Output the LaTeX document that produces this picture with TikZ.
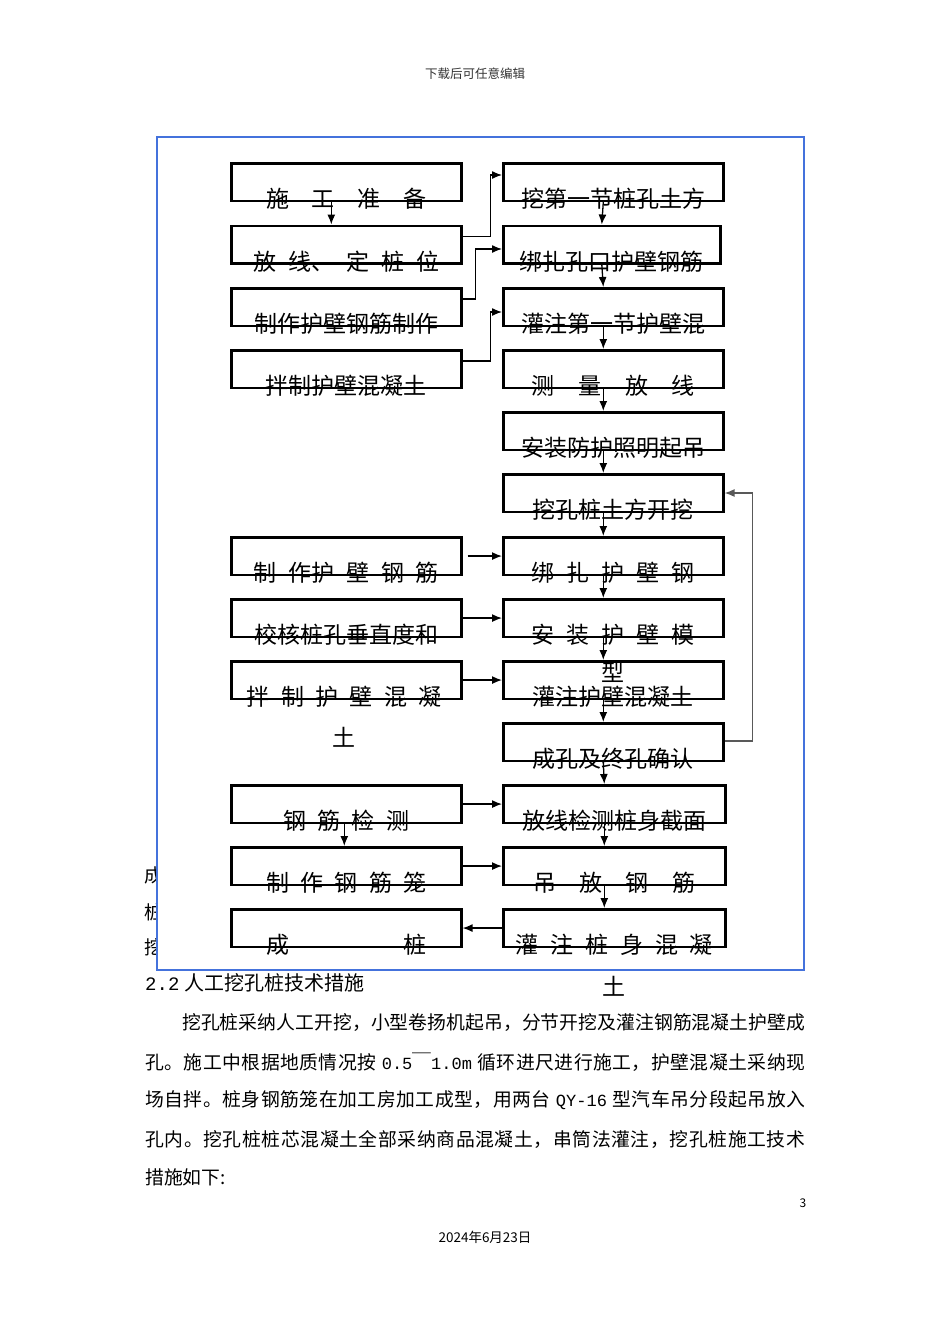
\documentclass[tikz,border=0pt]{standalone}
\usepackage{fontspec}
\setmainfont{Noto Sans CJK SC}
\newfontfamily\latinmono{Liberation Mono}
\usetikzlibrary{arrows.meta,calc}
\definecolor{frameblue}{RGB}{68,114,220}
\newcommand{\lat}[1]{{\latinmono\fontsize{17}{20}\selectfont #1}}
\begin{document}
\begin{tikzpicture}[x=1pt,y=-1pt,
  lb/.style={draw, line width=2.6pt, minimum width=230pt, minimum height=37.5pt, anchor=north west, inner sep=0pt},
  rb/.style={lb, minimum width=220pt},
  txt/.style={font=\fontsize{23}{28}\selectfont, inner sep=0pt},
  para/.style={font={\fontsize{18.8}{22}\selectfont\spaceskip=0pt plus 1fil}, inner sep=0pt, anchor=west},
  arr/.style={line width=1.3pt, -{Latex[length=10pt,width=8pt]}},
  loopline/.style={arr, draw=black!65}
]
\useasboundingbox (0,0) rectangle (950,1344);
\fill[white] (0,0) rectangle (950,1344);

% page header / footer
\node[font=\fontsize{12.5}{14}\selectfont, text=black!80, inner sep=0pt] (hdr) at (475,74) {下载后可任意编辑};
\node[font=\fontsize{12}{14}\selectfont, inner sep=0pt] (pg) at (803,1203) {3};
\node[font=\fontsize{13.5}{15}\selectfont, inner sep=0pt] (date) at (485,1237) {2024年6月23日};

% text hidden behind the figure
\node[para] (bg1) at (144,875) {成};
\node[para] (bg2) at (144,912) {桩};
\node[para] (bg3) at (144,947) {挖};

% blue frame
\draw[frameblue, line width=2.5pt, fill=white] (157,137) rectangle (804,970);

% left boxes
\node[lb] (L1) at (230,162) {};
\node[lb] (L2) at (230,224.5) {};
\node[lb] (L3) at (230,287) {};
\node[lb] (L4) at (230,349) {};
\node[lb] (L7) at (230,536) {};
\node[lb] (L8) at (230,598) {};
\node[lb] (L9) at (230,660) {};
\node[lb] (L11) at (230,784) {};
\node[lb] (L12) at (230,846) {};
\node[lb] (L13) at (230,908) {};

% right boxes
\node[rb] (R1) at (502,162) {};
\node[rb, minimum width=217pt] (R2) at (502,224.5) {};
\node[rb] (R3) at (502,287) {};
\node[rb] (R4) at (502,349) {};
\node[rb] (R5) at (502,411) {};
\node[rb] (R6) at (502,473) {};
\node[rb] (R7) at (502,536) {};
\node[rb] (R8) at (502,598) {};
\node[rb] (R9) at (502,660) {};
\node[rb] (R10) at (502,722) {};
\node[rb, minimum width=222pt] (R11) at (502,784) {};
\node[rb, minimum width=222pt] (R12) at (502,846) {};
\node[rb, minimum width=222pt] (R13) at (502,908) {};

% left texts
\node[txt] (L1t) at ($(L1.south)+(0,-3)$) {\makebox[160pt][s]{施 工 准 备}};
\node[txt] (L2t) at ($(L2.south)+(0,-3)$) {\makebox[186pt][s]{放 线、 定 桩 位}};
\node[txt] (L3t) at ($(L3.south)+(0,-3)$) {制作护壁钢筋制作};
\node[txt] (L4t) at ($(L4.south)+(0,-3)$) {拌制护壁混凝土};
\node[txt] (L7t) at ($(L7.south)+(0,-3)$) {\makebox[185pt][s]{制 作护 壁 钢 筋}};
\node[txt] (L8t) at ($(L8.south)+(0,-3)$) {校核桩孔垂直度和};
\node[txt] (L9t) at ($(L9.south)+(-2,-3)$) {\makebox[195pt][s]{拌 制 护 壁 混 凝}};
\node[txt] (L9u) at ($(L9.south)+(-2,37.5)$) {土};
\node[txt] (L11t) at ($(L11.south)+(0,-3)$) {\makebox[126pt][s]{钢 筋 检 测}};
\node[txt] (L12t) at ($(L12.south)+(0,-3)$) {\makebox[160pt][s]{制 作 钢 筋 笼}};
\node[txt] (L13t) at ($(L13.south)+(0,-3)$) {\makebox[160pt][s]{成 桩}};

% right texts
\node[txt] (R1t) at ($(R1.south)+(0,-3)$) {挖第一节桩孔土方};
\node[txt] (R2t) at ($(R2.south)+(0,-3)$) {绑扎孔口护壁钢筋};
\node[txt] (R3t) at ($(R3.south)+(0,-3)$) {灌注第一节护壁混};
\node[txt] (R4t) at ($(R4.south)+(0,-3)$) {\makebox[163pt][s]{测 量 放 线}};
\node[txt] (R5t) at ($(R5.south)+(0,-3)$) {安装防护照明起吊};
\node[txt] (R6t) at ($(R6.south)+(0,-3)$) {挖孔桩土方开挖};
\node[txt] (R7t) at ($(R7.south)+(0,-3)$) {\makebox[163pt][s]{绑 扎 护 壁 钢}};
\node[txt] (R8t) at ($(R8.south)+(0,-3)$) {\makebox[163pt][s]{安 装 护 壁 模}};
\node[txt] (R8u) at ($(R8.south)+(0,34)$) {型};
\node[txt] (R9t) at ($(R9.south)+(0,-3)$) {灌注护壁混凝土};
\node[txt] (R10t) at ($(R10.south)+(0,-3)$) {成孔及终孔确认};
\node[txt] (R11t) at ($(R11.south)+(0,-3)$) {放线检测桩身截面};
\node[txt] (R12t) at ($(R12.south)+(0,-3)$) {\makebox[162pt][s]{吊 放 钢 筋}};
\node[txt] (R13t) at ($(R13.south)+(0,-3)$) {\makebox[197pt][s]{灌 注 桩 身 混 凝}};
\node[txt] (R13u) at ($(R13.south)+(0,38.5)$) {土};

% vertical arrows, right column
\foreach \a/\b in {R1/R2,R2/R3,R3/R4,R4/R5,R5/R6,R6/R7,R7/R8,R8/R9,R9/R10,R10/R11,R11/R12,R12/R13}
  \draw[arr] ([xshift=-10pt]\a.south) -- ([xshift=-10pt]\b.north);

% vertical arrows, left column
\draw[arr] ([xshift=-15pt]L1.south) -- ([xshift=-15pt]L2.north);
\draw[arr] ([xshift=-2pt]L11.south) -- ([xshift=-2pt]L12.north);

% elbow connectors at the top
\draw[arr] ($(L2.north east)+(0,12)$) -- ++(28,0) |- ($(R1.north west)+(0,13)$);
\draw[arr] ($(L3.north east)+(0,12)$) -- ++(13,0) |- ($(R2.north west)+(0,24.5)$);
\draw[arr] ($(L4.north east)+(0,12)$) -- ++(28,0) |- ($(R3.north west)+(0,25)$);

% loop back
\draw[loopline] ($(R10.north east)+(0,19)$) -- ++(28,0) |- ($(R6.north east)+(0,20)$);

% horizontal arrows
\draw[arr] ([xshift=5pt]L7.east) -- (R7.west);
\draw[arr] (L8.east) -- (R8.west);
\draw[arr] (L9.east) -- (R9.west);
\draw[arr] (L11.east) -- (R11.west);
\draw[arr] (L12.east) -- (R12.west);
\draw[arr] (R13.west) -- (L13.east);

% body text below the figure
\node[inner sep=0pt, anchor=west, font=\fontsize{20}{22}\selectfont] (head) at (145,983) {{\latinmono\fontsize{19}{22}\selectfont 2.2}\hspace{5pt}人工挖孔桩技术措施};
\node[para] (p1) at (182,1023) {\makebox[623pt][s]{挖 孔 桩 采 纳 人 工 开 挖 ， 小 型 卷 扬 机 起 吊 ， 分 节 开 挖 及 灌 注 钢 筋 混 凝 土 护 壁 成}};
\node[para] (p2) at (145,1062) {\makebox[660pt][s]{孔 。 施 工 中 根 据 地 质 情 况 按 \hspace{5pt}\lat{0.5}￣\lat{1.0m}\hspace{5pt} 循 环 进 尺 进 行 施 工 ， 护 壁 混 凝 土 采 纳 现}};
\node[para] (p3) at (145,1100) {\makebox[660pt][s]{场 自 拌 。 桩 身 钢 筋 笼 在 加 工 房 加 工 成 型 ， 用 两 台 \hspace{5pt}\lat{QY-16}\hspace{5pt} 型 汽 车 吊 分 段 起 吊 放 入}};
\node[para] (p4) at (145,1139) {\makebox[660pt][s]{孔 内 。 挖 孔 桩 桩 芯 混 凝 土 全 部 采 纳 商 品 混 凝 土 ， 串 筒 法 灌 注 ， 挖 孔 桩 施 工 技 术}};
\node[para] (p5) at (145,1177) {措施如下:};
\end{tikzpicture}
\end{document}
